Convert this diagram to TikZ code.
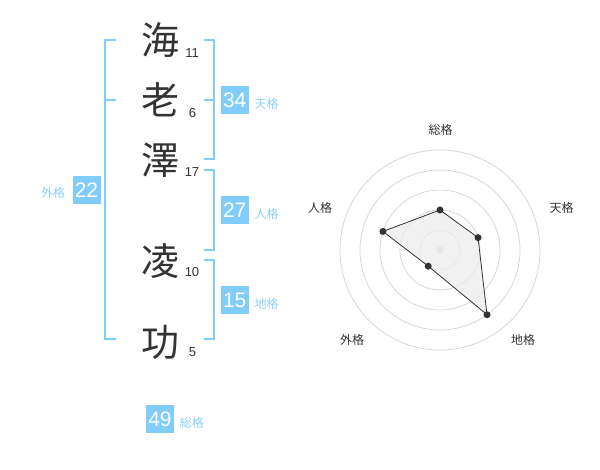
\documentclass[tikz,border=0pt]{standalone}
\usepackage{fontspec}
\setmainfont{Liberation Sans}
\newfontfamily\jpfont{Noto Sans CJK JP}
\usetikzlibrary{positioning}
\definecolor{kakublue}{RGB}{128,204,250}
\definecolor{kakutext}{RGB}{140,208,248}
\definecolor{inkgray}{RGB}{51,51,51}
\definecolor{ringgray}{RGB}{210,210,210}
\definecolor{webfill}{RGB}{236,236,236}
\tikzset{
  kanji/.style={font=\jpfont\fontsize{38}{38}\selectfont, text=inkgray, inner sep=0pt},
  strokes/.style={font=\fontsize{13}{13}\selectfont, text=inkgray, inner sep=0pt},
  kakubox/.style={fill=kakublue, text=white, minimum size=28pt, inner sep=0pt, font=\fontsize{21}{21}\selectfont},
  kakuname/.style={font=\jpfont\fontsize{12}{12}\selectfont, text=kakutext, inner sep=0pt},
  bracket/.style={draw=kakublue, line width=2pt},
  axisname/.style={font=\jpfont\fontsize{12}{12}\selectfont, text=inkgray, inner sep=0pt},
  ring/.style={draw=ringgray, line width=0.7pt},
  dot/.style={circle, fill=inkgray, inner sep=0pt, minimum size=7pt},
}
\begin{document}
\begin{tikzpicture}[x=1pt,y=-1pt]
	\useasboundingbox (0,0) rectangle (600,470);
	
	\node[kanji] (c1) at (160,40) {海};
	\node[kanji] (c2) at (160,100) {老};
	\node[kanji] (c3) at (160,160) {澤};
	\node[kanji] (c4) at (160,261) {凌};
	\node[kanji] (c5) at (160,342) {功};
	\node[strokes] (n1) at (192,53) {11};
	\node[strokes] (n2) at (192.5,113) {6};
	\node[strokes] (n3) at (192,172.5) {17};
	\node[strokes] (n4) at (192,272.5) {10};
	\node[strokes] (n5) at (192.5,352.5) {5};
	
	\draw[bracket] (116,40) -| (105,339) -- (116,339);
	\draw[bracket] (105,100) -- (116,100);
	\draw[bracket] (204,40) -| (214,159) -- (204,159);
	\draw[bracket] (204,100) -- (214,100);
	\draw[bracket] (204,170) -| (214,250) -- (204,250);
	\draw[bracket] (204,260) -| (214,339) -- (204,339);
	
	\node[kakubox] (ten) at (234.7,100) {34};
	\node[kakubox] (jin) at (234.7,210.5) {27};
	\node[kakubox] (chi) at (234.7,300.5) {15};
	\node[kakubox] (gai) at (86.5,190) {22};
	\node[kakubox] (sou) at (160,419) {49};
	\node[kakuname, right=5.5pt of ten, yshift=-3.5pt] (tenl) {天格};
	\node[kakuname, right=5.5pt of jin, yshift=-3pt] (jinl) {人格};
	\node[kakuname, right=5.5pt of chi, yshift=-3pt] (chil) {地格};
	\node[kakuname, left=7pt of gai, yshift=-3pt] (gail) {外格};
	\node[kakuname, right=5.5pt of sou, yshift=-3.5pt] (soul) {総格};
	
	\begin{scope}[shift={(440,250)},y=1pt]
		\foreach \r in {20,40,...,100}
			\draw[ring] (0,0) circle (\r pt);
		\fill[ringgray] (0,0) circle (3.5pt);
		\coordinate (p1) at (90:40);
		\coordinate (p2) at (18:40);
		\coordinate (p3) at (-54:80);
		\coordinate (p4) at (-126:20);
		\coordinate (p5) at (162:60);
		\filldraw[fill=webfill, fill opacity=0.75, draw=inkgray, line width=0.8pt]
			(p1) -- (p2) -- (p3) -- (p4) -- (p5) -- cycle;
		\foreach \i in {1,...,5}
			\node[dot] (d\i) at (p\i) {};
		\node[axisname] (a1) at (0.7,120) {総格};
		\node[axisname] (a2) at (121.7,42) {天格};
		\node[axisname] (a3) at (83,-90) {地格};
		\node[axisname] (a4) at (-88,-90) {外格};
		\node[axisname] (a5) at (-120,42) {人格};
	\end{scope}
\end{tikzpicture}
\end{document}
